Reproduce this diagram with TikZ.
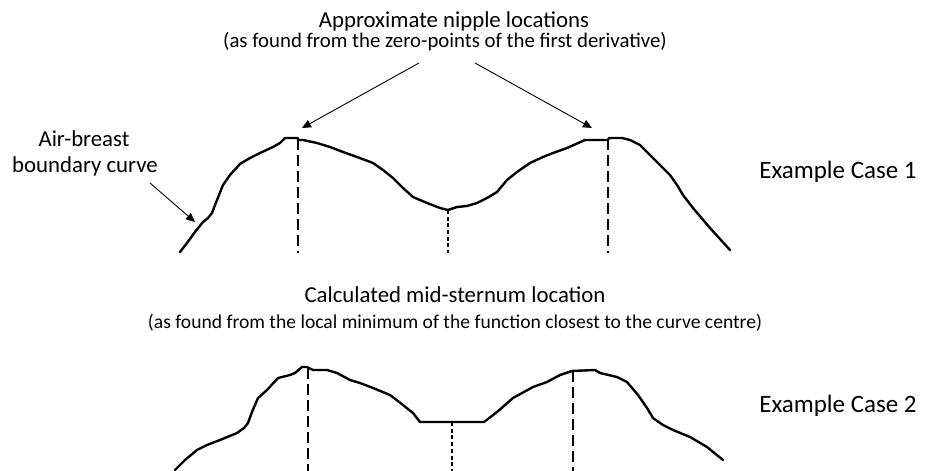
\documentclass[tikz,border=0pt]{standalone}
\usepackage{fontspec}
\setmainfont{Carlito}
\usetikzlibrary{arrows.meta}
\begin{document}
\begin{tikzpicture}[x=1bp,y=-1bp,
 curve/.style={line width=2.4bp, line join=round, line cap=round},
 nipline/.style={line width=2.9bp, dash pattern=on 11bp off 5bp},
 midline/.style={line width=2.9bp, dash pattern=on 4bp off 2.7bp},
 pointer/.style={line width=0.9bp, -{Triangle[length=9bp,width=8bp]}},
 big/.style={inner sep=0, anchor=base, font=\fontsize{22.8bp}{27bp}\selectfont},
 casefont/.style={inner sep=0, anchor=base, font=\fontsize{25bp}{29bp}\selectfont},
 small/.style={inner sep=0, anchor=base, font=\fontsize{20.8bp}{24bp}\selectfont},
 smaller/.style={inner sep=0, anchor=base, font=\fontsize{19.6bp}{23bp}\selectfont}]
\useasboundingbox (0,0) rectangle (933,471);

% texts
\node[big]      (title1) at (454,28)  {Approximate nipple locations};
\node[small]    (sub1)   at (445,48)  {(as found from the zero-points of the first derivative)};
\node[big]      (lab1)   at (84,147)  {Air-breast};
\node[big]      (lab1b)  at (85,173)  {boundary curve};
\node[casefont] (case1)  at (838,179) {Example Case 1};
\node[big]      (title2) at (455,303) {Calculated mid-sternum location};
\node[smaller]  (sub2)   at (455,329) {(as found from the local minimum of the function closest to the curve centre)};
\node[casefont] (case2)  at (838,412) {Example Case 2};

% curve 1
\draw[curve] plot coordinates {(180,252) (187,243) (195,232) (203,222) (208,218) (212,213) (215,205) (217,200) (223,185) (230,175) (240,164) (250,158) (260,153) (273,147) (280,143) (285,138) (298,138) (298,140) (303,140) (317,143) (330,147) (343,152) (357,157) (373,163) (383,170) (393,178) (403,188) (413,197) (427,203) (440,208) (448,210) (457,207) (467,206) (477,203) (487,198) (497,192) (507,180) (517,172) (530,163) (543,157) (553,153) (567,148) (585,140) (608,140) (609,138) (622,138) (630,140) (640,145) (650,155) (670,175) (677,185) (683,195) (693,208) (710,228) (730,250)};
\coordinate (p1L) at (298,139);
\coordinate (p1M) at (448,210);
\coordinate (p1R) at (608,139);
\draw[nipline] (p1L) -- (298,253);
\draw[midline] (p1M) -- (448,253);
\draw[nipline] (p1R) -- (608,253);

% curve 2
\draw[curve] plot coordinates {(175,470) (185,460) (197,450) (207,445) (220,440) (237,433) (244,428) (248,423) (252,412) (258,398) (267,390) (278,378) (290,375) (295,373) (302,367) (307,367) (313,370) (327,370) (337,373) (350,380) (360,383) (373,388) (390,395) (403,405) (413,413) (420,422) (484,422) (497,412) (513,398) (533,387) (547,382) (560,375) (572,371) (595,370) (600,373) (617,377) (627,382) (638,395) (647,408) (653,418) (663,425) (673,430) (690,437) (707,447) (723,460)};
\coordinate (p2L) at (308,368);
\coordinate (p2M) at (452,422);
\coordinate (p2R) at (573,371);
\draw[nipline] (p2L) -- (308,471);
\draw[midline] (p2M) -- (452,471);
\draw[nipline] (p2R) -- (573,471);

% pointers
\coordinate (nfromL) at (419,63);
\coordinate (nfromR) at (475,63);
\coordinate (ntipL) at (302,128);
\coordinate (ntipR) at (592,128);
\coordinate (bfrom) at (150,183);
\coordinate (btip) at (195,222);
\draw[pointer] (nfromL) -- (ntipL);
\draw[pointer] (nfromR) -- (ntipR);
\draw[pointer] (bfrom) -- (btip);
\end{tikzpicture}
\end{document}
